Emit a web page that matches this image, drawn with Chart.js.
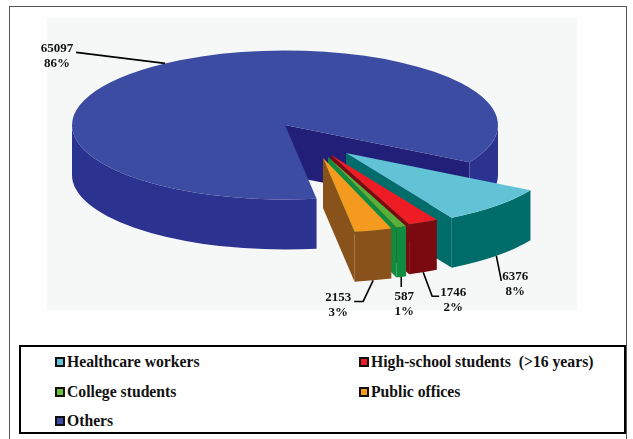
<!DOCTYPE html>
<html>
<head>
<meta charset="utf-8">
<style>
    body { margin: 0; background: #fff; width: 633px; height: 439px; overflow: hidden; position: relative; }
    #frame { position: absolute; left: 9px; top: 6px; width: 616px; height: 440px; border: 1px solid #555; }
    #plotBg { position: absolute; left: 47px; top: 18px; width: 530px; height: 292px; background: #f6f7f7; }
    #lineChart { position: absolute; left: 0; top: 0; }
    #legendBox {
        position: absolute; left: 19px; top: 345px; width: 603px; height: 85px;
        border: 2px solid #000; background: #fff; box-sizing: content-box;
    }
    .item {
        position: absolute; display: flex; align-items: center; white-space: pre;
        font: bold 15.7px "Liberation Serif", serif; color: #111; height: 20px;
    }
    .swatch { width: 6px; height: 6px; border: 2px solid #111; margin-right: 2px; }
</style>
</head>
<body>
<div id="frame"></div>
<div id="plotBg"></div>
<canvas id="lineChart" width="633" height="439"></canvas>
<div id="legendBox"></div>
<script src="https://cdn.jsdelivr.net/npm/chart.js@4"></script>
<script>
const categories = ['Healthcare workers', 'High-school students  (>16 years)', 'College students', 'Public offices', 'Others'];
const counts = [6376, 1746, 587, 2153, 65097];
const percents = ['8%', '2%', '1%', '3%', '86%'];

const faceColors = ['#62c3d6', '#ee1c25', '#57b03a', '#f39a1f', '#3c4ca2'];
const wallColors = ['#006d6b', '#7a0a10', '#0f8c40', '#8a521b', '#2b3290'];
const swatchColors = ['#62c3d6', '#ee1c25', '#6abf3f', '#f39a1f', '#3c4ca2'];
const cutWallColor = '#221f78';
// how far each slice is pulled out of the pie, in px on screen
const explodeX = [61, 46, 43, 38, 0];
const explodeY = [28, 30, 32, 33, 0];

const SQUASH = 0.35;
const DEPTH = 50;

// leader line bends (relative to the slice anchor) and label centre
const leaders = [
    { points: [[5, 25]], label: [19, 21] },
    { points: [[9, 24], [16, 24]], label: [30, 20] },
    { points: [[0, 10]], label: [3, 20] },
    { points: [[-10, 21], [-19, 21]], label: [-35, 17] },
    { points: [[-89, -11]], label: [-108, -15] }
];

// side walls of the pie, the library only draws the top faces
function drawWall(ctx, x, y, r, from, to, color) {
    ctx.beginPath();
    ctx.ellipse(x, y, r, r * SQUASH, 0, from, to);
    ctx.ellipse(x, y + DEPTH, r, r * SQUASH, 0, to, from, true);
    ctx.closePath();
    ctx.fillStyle = color;
    ctx.fill();
}

function drawCut(ctx, x, y, r, angle, color) {
    const ex = x + Math.cos(angle) * r;
    const ey = y + Math.sin(angle) * r * SQUASH;
    ctx.beginPath();
    ctx.moveTo(x, y);
    ctx.lineTo(ex, ey);
    ctx.lineTo(ex, ey + DEPTH);
    ctx.lineTo(x, y + DEPTH);
    ctx.closePath();
    ctx.fillStyle = color;
    ctx.fill();
}

function arcCenter(arc, i) {
    return {
        x: arc.x + explodeX[i],
        y: arc.y + explodeY[i],
        mid: (arc.startAngle + arc.endAngle) / 2
    };
}

const pie3d = {
    id: 'pie3d',
    beforeDatasetDraw: function(chart) {
        const ctx = chart.ctx;
        const arcs = chart.getDatasetMeta(0).data;

        // back piece first, then the exploded slices
        [4, 0, 1, 2, 3].forEach(function(i) {
            const arc = arcs[i];
            const c = arcCenter(arc, i);
            const r = arc.outerRadius;
            drawCut(ctx, c.x, c.y, r, arc.endAngle, i === 4 ? cutWallColor : wallColors[i]);
            for (let k = 0; k < 2; k++) {
                const lo = Math.max(arc.startAngle, 2 * Math.PI * k);
                const hi = Math.min(arc.endAngle, Math.PI + 2 * Math.PI * k);
                if (lo < hi) drawWall(ctx, c.x, c.y, r, lo, hi, wallColors[i]);
            }
        });

        // top faces: the library's own arcs, squashed and moved out
        arcs.forEach(function(arc, i) {
            const c = arcCenter(arc, i);
            ctx.save();
            ctx.translate(c.x - arc.x, c.y);
            ctx.scale(1, SQUASH);
            ctx.translate(0, -arc.y);
            arc.draw(ctx);
            ctx.restore();
        });

        // leader lines and value labels
        arcs.forEach(function(arc, i) {
            const c = arcCenter(arc, i);
            const r = arc.outerRadius;
            const ax = c.x + Math.cos(c.mid) * r;
            const ay = c.y + Math.sin(c.mid) * r * SQUASH + (i === 4 ? 0 : DEPTH);
            const lead = leaders[i];
            ctx.beginPath();
            ctx.moveTo(ax, ay);
            lead.points.forEach(function(p) { ctx.lineTo(ax + p[0], ay + p[1]); });
            ctx.strokeStyle = '#000';
            ctx.lineWidth = 1.6;
            ctx.stroke();
            ctx.fillStyle = '#111';
            ctx.font = 'bold 13px "Liberation Serif"';
            ctx.textAlign = 'center';
            ctx.textBaseline = 'middle';
            ctx.fillText(String(counts[i]), ax + lead.label[0], ay + lead.label[1]);
            ctx.fillText(percents[i], ax + lead.label[0], ay + lead.label[1] + 15);
        });
        return false;
    }
};

document.addEventListener('DOMContentLoaded', function() {
    initPie();
    initLegend();
});

function initPie() {
    const ctx = document.getElementById('lineChart');
    new Chart(ctx, {
        type: 'pie',
        data: {
            labels: categories,
            datasets: [{
                data: counts,
                backgroundColor: faceColors,
                borderWidth: 0
            }]
        },
        options: {
            responsive: false,
            animation: false,
            events: [],
            rotation: 120,
            radius: 213,
            layout: { padding: { left: 0, right: 63, top: 0, bottom: 189 } },
            plugins: {
                legend: { display: false },
                tooltip: { enabled: false }
            }
        },
        plugins: [pie3d]
    });
}

// Legend sits in a two column box under the chart
function initLegend() {
    const box = document.getElementById('legendBox');
    const cols = [34, 338];
    const rows = [5, 35, 64];
    categories.forEach(function(name, i) {
        const item = document.createElement('div');
        item.className = 'item';
        item.style.left = cols[i % 2] + 'px';
        item.style.top = rows[Math.floor(i / 2)] + 'px';
        const swatch = document.createElement('span');
        swatch.className = 'swatch';
        swatch.style.background = swatchColors[i];
        item.appendChild(swatch);
        item.appendChild(document.createTextNode(name));
        box.appendChild(item);
    });
}
</script>
</body>
</html>
